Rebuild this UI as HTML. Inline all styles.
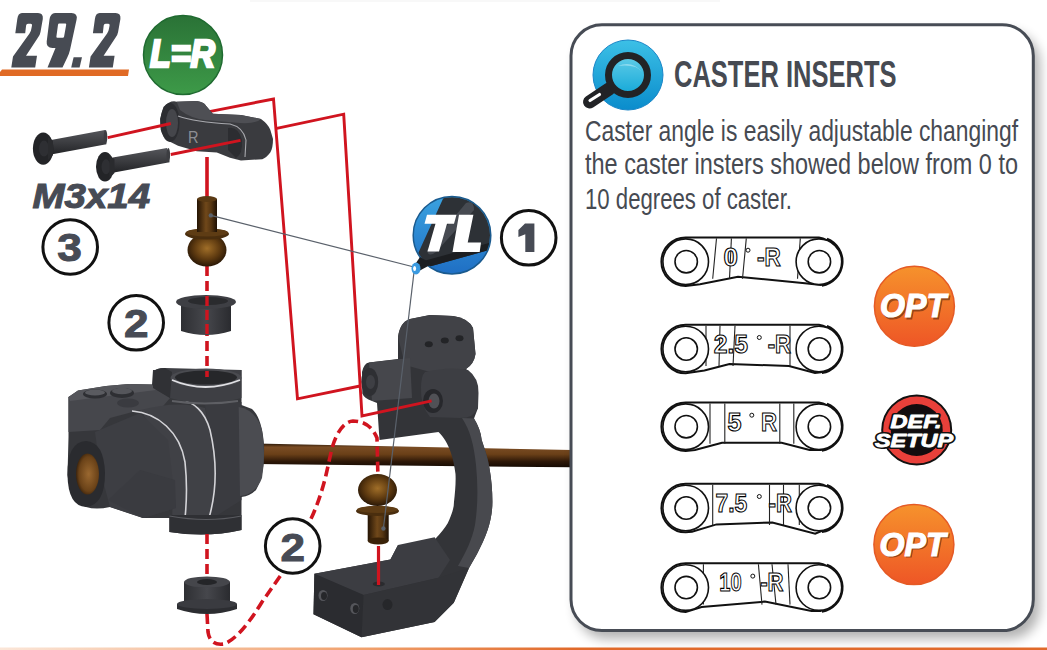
<!DOCTYPE html>
<html><head><meta charset="utf-8">
<style>
html,body{margin:0;padding:0;background:#fff;}
body{width:1047px;height:650px;overflow:hidden;font-family:"Liberation Sans",sans-serif;}
svg{display:block;}
text{font-family:"Liberation Sans",sans-serif;}
</style></head><body>
<svg width="1047" height="650" viewBox="0 0 1047 650">
<defs>
  <linearGradient id="gGreen" x1="0" y1="0" x2="0" y2="1">
    <stop offset="0" stop-color="#2a7236"/><stop offset="1" stop-color="#3d9a48"/>
  </linearGradient>
  <linearGradient id="gOrange" x1="0" y1="0" x2="0" y2="1">
    <stop offset="0" stop-color="#f6922c"/><stop offset="1" stop-color="#ee5626"/>
  </linearGradient>
  <linearGradient id="gBlue" x1="0" y1="0" x2="0" y2="1">
    <stop offset="0" stop-color="#3cc0e6"/><stop offset="1" stop-color="#0a8ccc"/>
  </linearGradient>
  <linearGradient id="gLens" x1="0" y1="0" x2="0" y2="1">
    <stop offset="0" stop-color="#62cde8"/><stop offset="1" stop-color="#14a8d8"/>
  </linearGradient>
  <linearGradient id="gTL" x1="0" y1="0" x2="0" y2="1">
    <stop offset="0" stop-color="#3aa2e0"/><stop offset="1" stop-color="#1f6fc4"/>
  </linearGradient>
  <linearGradient id="gBottom" x1="0" y1="0" x2="1" y2="0">
    <stop offset="0" stop-color="#fbe6d8"/><stop offset="0.35" stop-color="#f0a06c"/><stop offset="0.55" stop-color="#e0692a"/><stop offset="1" stop-color="#e0692a"/>
  </linearGradient>
  <filter id="shadow" x="-10%" y="-10%" width="130%" height="130%">
    <feGaussianBlur stdDeviation="6"/>
  </filter>
</defs>

<!-- top faint line -->
<rect x="250" y="0" width="470" height="2" fill="#f8f8f8"/>

<!-- ===== Title ===== -->
<path d="M22,13 L38,13 Q43.5,13 42.8,19 L40.5,32 Q40,35 38,37.5 L26,55.8 L37,55.8 L35.2,67.6 L11.3,67.6 L13,56.5 L29.5,33.5 Q31,31.5 31.3,29 L32,25.5 Q32.3,23.8 30.8,23.8 L28,23.8 Q26.3,23.8 26.1,25.5 L25.2,33.3 L15.3,33.3 L17.3,19 Q18,13 22,13 Z" fill="#474b53"/>
<path d="M22,13 L38,13 Q43.5,13 42.8,19 L40.5,32 Q40,35 38,37.5 L26,55.8 L37,55.8 L35.2,67.6 L11.3,67.6 L13,56.5 L29.5,33.5 Q31,31.5 31.3,29 L32,25.5 Q32.3,23.8 30.8,23.8 L28,23.8 Q26.3,23.8 26.1,25.5 L25.2,33.3 L15.3,33.3 L17.3,19 Q18,13 22,13 Z" transform="translate(77.6,0)" fill="#474b53"/>
<polygon points="71.2,67.6 79.6,67.6 82,57.2 73.6,57.2" fill="#474b53"/>
<path d="M55,13 L71.5,13 Q77.8,13 76.6,19.5 L70,50 Q69,54 67.5,57 L62.5,67.6 L47.5,67.6 L55.5,48 L52.5,48 Q46,48 46.7,41.5 L49.5,19.5 Q50.5,13 55,13 Z M59.2,23.5 L65.3,23.5 Q66.4,23.5 66.2,24.7 L64.1,36.6 Q63.9,37.8 62.7,37.8 L57.4,37.8 Q56.2,37.8 56.4,36.6 L58,24.7 Q58.2,23.5 59.2,23.5 Z" fill="#474b53" fill-rule="evenodd"/>
<polygon points="2,69.5 129,69.5 128,76 0,76 0,72" fill="#e06a25"/>

<!-- L=R badge -->
<circle cx="183" cy="55" r="39.5" fill="url(#gGreen)" stroke="#1f6a30" stroke-width="1.5"/>
<text x="150" y="67" font-size="39" font-weight="bold" font-style="italic" fill="#fff" stroke="#fff" stroke-width="2.6" stroke-linejoin="miter" textLength="65" lengthAdjust="spacingAndGlyphs">L=R</text>

<defs>
  <linearGradient id="gRod" x1="0" y1="0" x2="0" y2="1">
    <stop offset="0" stop-color="#2a1808"/><stop offset="0.15" stop-color="#7a4c24"/><stop offset="0.45" stop-color="#6a4018"/><stop offset="0.75" stop-color="#2e1808"/><stop offset="1" stop-color="#140a02"/>
  </linearGradient>
  <linearGradient id="gBrassH" x1="0" y1="0" x2="1" y2="0">
    <stop offset="0" stop-color="#241404"/><stop offset="0.45" stop-color="#70481a"/><stop offset="0.7" stop-color="#563612"/><stop offset="1" stop-color="#1e1004"/>
  </linearGradient>
  <radialGradient id="gBall" cx="0.5" cy="0.45" r="0.6">
    <stop offset="0" stop-color="#a06e28"/><stop offset="0.55" stop-color="#5e3a10"/><stop offset="1" stop-color="#1e1004"/>
  </radialGradient>
  <linearGradient id="gDarkH" x1="0" y1="0" x2="1" y2="0">
    <stop offset="0" stop-color="#2e2f33"/><stop offset="0.5" stop-color="#46474c"/><stop offset="1" stop-color="#2a2b2f"/>
  </linearGradient>
  <linearGradient id="gDarkV" x1="0" y1="0" x2="0" y2="1">
    <stop offset="0" stop-color="#4a4b50"/><stop offset="1" stop-color="#2a2b2e"/>
  </linearGradient>
  <linearGradient id="gScrew" x1="0" y1="0" x2="0" y2="1">
    <stop offset="0" stop-color="#55565b"/><stop offset="0.35" stop-color="#444549"/><stop offset="1" stop-color="#232427"/>
  </linearGradient>
  <radialGradient id="gBronze" cx="0.55" cy="0.5" r="0.6">
    <stop offset="0" stop-color="#9a6830"/><stop offset="0.7" stop-color="#6a4218"/><stop offset="1" stop-color="#2a1808"/>
  </radialGradient>
  <clipPath id="tlClip"><circle cx="452" cy="235.2" r="38"/></clipPath>
</defs>

<!-- axle rod -->
<polygon points="255,443.6 572,450 572,467.3 255,464" fill="url(#gRod)"/>

<!-- red solid lines A and B -->
<g fill="none" stroke="#d0141f" stroke-width="2.9" stroke-linejoin="miter">
  <polyline points="209.2,111.7 273.5,99 297.5,398.8 360,386"/>
</g>

<!-- ===== Knuckle ===== -->
<g>
  <path d="M68.5,397 L78,390.5 L106,386 L129,384 L152,384.5 L153,370 L241.5,370 L241.5,405 L252,409 Q262,418 264,445 Q265,475 256,490 Q250,496 241.5,497 L241.5,530 Q207,538 169.4,532 L169.4,518 L143,518 L110,507 Q96,510 86,507 Q70,500 67.5,475 L68.5,437 Z" fill="#36373b"/>
  <!-- upper arm plate front face -->
  <path d="M68.5,397 L152,387 L170,398 L158,412 L140,410 L110,418 L100,430 L68.5,432 Z" fill="#46474c"/>
  <path d="M68.5,397 L78,390.5 L106,386 L129,384 L152,384.5 L156,390 L70,401 Z" fill="#55565b"/>
  <ellipse cx="95" cy="394" rx="12" ry="4.5" fill="#2e2f33"/>
  <ellipse cx="95" cy="392.5" rx="10" ry="3" fill="#5a5b60"/>
  <ellipse cx="122" cy="393" rx="12" ry="5" fill="#2e2f33"/>
  <ellipse cx="122" cy="391" rx="10" ry="3.2" fill="#55565b"/>
  <ellipse cx="128" cy="403" rx="11" ry="4.5" fill="#3a3b40"/>
  <!-- main barrel -->
  <path d="M140,410 Q178,400 205,408 L216,470 L210,520 Q185,530 172,520 Q176,460 140,410 Z" fill="#404146"/>
  <path d="M205,405 L241.5,402 L241.5,500 L210,520 L216,470 Z" fill="#3a3b40"/>
  <!-- right dome -->
  <path d="M238.7,407 Q256,410 262,430 Q266,455 262,478 Q256,494 240,496 Z" fill="#4b4c51"/>
  <!-- hex left lower block -->
  <path d="M95,432 L140,413 L168,440 L176,508 L143,518 L110,507 L100,470 Z" fill="#3d3e43"/>
  <path d="M108,500 L140,470 L175,480 L176,508 L143,518 Z" fill="#3a3b40"/>
  <!-- highlight curves -->
  <path d="M132,411 C158,413 180,432 185,462 C188,490 186,508 185,518" fill="none" stroke="#d4d4d8" stroke-width="1.6"/>
  <path d="M176,397 C195,402 205,412 210,430 C217,460 217,490 209,518" fill="none" stroke="#d4d4d8" stroke-width="1.6"/>
  <!-- top collar -->
  <path d="M153,372 Q156,368 165,368 L241.5,370 L241.5,398 Q205,408 170,398 Z" fill="#3e3f44"/>
  <path d="M153,372 Q156,368 165,368 L172,372 L170,398 Q160,392 153,388 Z" fill="#303135"/>
  <ellipse cx="206" cy="378" rx="35.5" ry="9.5" fill="#4a4b50"/>
  <ellipse cx="206" cy="377.5" rx="31" ry="7" fill="#26272a"/>
  <path d="M172,380 Q205,394 240,380" fill="none" stroke="#e0e0e4" stroke-width="1.8"/>
  <path d="M172,401 Q205,406 238,401" fill="none" stroke="#5e5f64" stroke-width="2"/>
  <!-- bottom collar -->
  <path d="M169.4,515 L241.5,515 L241.5,530 Q207,538 169.4,532 Z" fill="#2f3034"/>
  <path d="M169.4,516 Q207,523 241.5,516" fill="none" stroke="#5a5b60" stroke-width="1.2"/>
  <!-- left hole -->
  <path d="M67.5,475 Q67,442 86,441 Q104,442 105,473 Q105,505 86,507 Q68,506 67.5,475 Z" fill="#2a2b2f"/>
  <ellipse cx="87.5" cy="474" rx="11.5" ry="20.5" fill="url(#gBronze)"/>
</g>

<!-- ===== upper part screws and block ===== -->
<g>
  <!-- screw 1 -->
  <polygon points="49.7,140.3 105,130 106.4,144.2 51,154.5" fill="url(#gScrew)"/>
  <ellipse cx="105.5" cy="137.1" rx="1.8" ry="7.1" fill="#3c3d41"/>
  <ellipse cx="43.2" cy="148.6" rx="10.3" ry="16.2" fill="#232427"/>
  <ellipse cx="44" cy="148.6" rx="5" ry="8" fill="#2e2f33"/>
  <path d="M48,137 L53,141 L53,155 L48,160 Z" fill="#2a2b2e"/>
  <!-- screw 2 -->
  <polygon points="112.8,157.6 167,148 169.6,162.2 114,172.5" fill="url(#gScrew)"/>
  <ellipse cx="168.3" cy="155.1" rx="1.8" ry="7.1" fill="#3c3d41"/>
  <ellipse cx="105" cy="166.8" rx="9" ry="14.8" fill="#232427"/>
  <ellipse cx="106" cy="166.8" rx="4.5" ry="7.5" fill="#2e2f33"/>
  <path d="M109.5,155.5 L114.5,159 L114.5,173 L109.5,178 Z" fill="#2a2b2e"/>
  <!-- top block -->
  <path d="M163.4,107 Q170,100 176.7,101.7 L196.8,101 Q204,102 206,105.7 L212.8,113.7 L241,115 L261,119 Q268,124 270.3,129.8 L273,139 Q273,148 270.3,152.5 Q266,158 262.3,159.2 L241,160.5 L230,157.8 L216.8,152.5 L196.8,151.2 L178,145.8 L170,141.8 Q162,136 160.7,129.8 L160,119 Z" fill="#3a3b3f"/>
  <path d="M176.7,101.7 L196.8,101 Q204,102 206,105.7 L212.8,113.7 L241,115 L261,119 Q256,124 240,123 L205,120 Q190,118 180,110 Z" fill="#4e4f54"/>
  <ellipse cx="170" cy="122.4" rx="9.5" ry="19.5" fill="#2c2d31"/>
  <ellipse cx="172" cy="123" rx="6" ry="14" fill="#45464b"/>
  <path d="M228,128 Q238,126 242,140 Q243,154 236,158 L228,150 Z" fill="#2c2d31"/>
  <path d="M178,116 Q195,122 230,124 Q243,127 246,140 L245,157" fill="none" stroke="#a8a9ae" stroke-width="1.1"/>
  <text x="188" y="143" font-size="16.5" fill="#8e8f94" textLength="10.5" lengthAdjust="spacingAndGlyphs">R</text>
</g>

<!-- red lines from screws -->
<g stroke="#d0141f" stroke-width="2.9" fill="none">
  <line x1="107.7" y1="137.7" x2="170.8" y2="123.5"/>
  <line x1="170.8" y1="154.5" x2="240.5" y2="140.3"/>
  <line x1="207" y1="157" x2="207" y2="197" stroke-width="3.6"/>
</g>

<!-- red dashed lines -->
<g stroke="#d0141f" stroke-width="3.6" fill="none" stroke-dasharray="10 5">
  <line x1="207" y1="266" x2="207" y2="377"/>
  <line x1="207" y1="534" x2="207" y2="578"/>
  <path d="M207,614 L208,632 Q210,646 224,644 Q240,638 262,602 L283,572 L310,521 Q320,500 326,475 L332,448 Q340,422 353,421 Q370,421 377,438 L378,479"/>
</g>

<!-- upper bushing -->
<g>
  <path d="M181,303 L231,303 L231,331 Q206,339 181,331 Z" fill="url(#gDarkH)"/>
  <ellipse cx="206" cy="302" rx="30" ry="7" fill="#3e3f44"/>
  <ellipse cx="208" cy="301" rx="20" ry="4" fill="#2a2b2e"/>
</g>
<line x1="207" y1="296" x2="207" y2="336" stroke="#d0141f" stroke-width="3.4" stroke-dasharray="10 4"/>

<!-- lower bushing -->
<g>
  <path d="M184,582 L230,582 L230,603 L184,603 Z" fill="url(#gDarkH)"/>
  <path d="M177,604 L237,604 L237,609 Q207,619 177,609 Z" fill="#2c2d31"/>
  <ellipse cx="207" cy="604" rx="30" ry="5" fill="#3a3b40"/>
  <ellipse cx="207" cy="582" rx="23" ry="5.5" fill="#45464b"/>
  <ellipse cx="207" cy="582" rx="10" ry="3" fill="#242528"/>
</g>

<!-- upper ball stud -->
<g>
  <rect x="197" y="199" width="20" height="33" fill="url(#gBrassH)"/>
  <ellipse cx="207" cy="199" rx="10" ry="3" fill="#5a3a14"/>
  <ellipse cx="207" cy="250" rx="19.5" ry="16.5" fill="url(#gBall)"/>
  <ellipse cx="207" cy="234" rx="22" ry="5.5" fill="#4a2e0e"/>
  <ellipse cx="207" cy="232.5" rx="21" ry="4" fill="#5e3c14"/>
  <rect x="197" y="226" width="20" height="6" fill="url(#gBrassH)"/>
</g>

<!-- ===== Hub carrier ===== -->
<g>
  <path d="M362,372 Q364,363 369,362.5 L398,359 L398,337 Q400,322 410,319 L430,315 L453,316 Q468,318 473,328 L475.5,354 Q474,364 466,369 Q478,378 478,392 L478,408 L474,418.5 C478,425 481,432 481.7,440 C485,450 488,458 489.4,467.8 C491.5,480 492.4,490 492.4,501.7 C492.4,512 490.5,521 487.8,529.5 C485,538 481,546 477,554 L469,568 L453.8,602.7 L434.6,622 L361.5,637.3 L313.5,614.2 L314.4,573.8 L390.4,559.4 L398,545 L420,545 C428,543 432,541 435.4,538.7 C441,533 445,528 447.7,523.3 C451,516 454,509 454,501.7 C455,493 456,482 455.5,474 C454.5,466 453,459 450.8,452.4 C448,444 443,436 438.5,432 L379.5,440 L377,403 L372,401 Q364,398 362.3,393.5 Z" fill="#333438"/>
  <path d="M462,418 C470,430 474,445 476,465 C478,485 478,505 475,525 C472,540 466,552 458,566 L469,568 L477,554 C481,546 485,538 487.8,529.5 C490.5,521 492.4,512 492.4,501.7 C492.4,490 491.5,480 489.4,467.8 C488,458 485,450 481.7,440 C481,432 478,425 474,418.5 Z" fill="#48494e"/>
  <!-- tower face lighter -->
  <path d="M398,337 Q400,322 410,319 L430,315 L453,316 Q468,318 473,328 L475.5,354 Q474,364 466,369 Q450,375 430,372 L405,365 Z" fill="#414247"/>
  <ellipse cx="428.8" cy="344.3" rx="4" ry="3" fill="#232427"/>
  <ellipse cx="444.8" cy="340.6" rx="4" ry="3" fill="#232427"/>
  <ellipse cx="459.5" cy="338.2" rx="4" ry="3" fill="#232427"/>
  <!-- left boss -->
  <path d="M369,362.5 L410,358 L412,398 L372,401 Z" fill="#46474c"/>
  <ellipse cx="369.7" cy="382" rx="8.5" ry="14" fill="#2e2f33"/>
  <ellipse cx="370.5" cy="382" rx="4.5" ry="7" fill="#3e3f44"/>
  <path d="M425,372 Q450,366 468,370 Q479,378 478.5,393 L478,408 Q474,418 460,418 L430,417 Q420,405 421,388 Q421,376 425,372 Z" fill="#3d3e43"/>
  <!-- right boss hole -->
  <ellipse cx="433" cy="401" rx="10" ry="12" fill="#27282c"/>
  <ellipse cx="434" cy="401" rx="5.5" ry="7.5" fill="#505156"/>
  <!-- foot faces -->
  <polygon points="314.4,573.8 390.4,559.4 398,545 434.6,537.3 450,560 438.5,577.7 363.5,595" fill="#3c3d42"/>
  <polygon points="363.5,595 438.5,577.7 469,568 453.8,602.7 434.6,622 361.5,637.3" fill="#323337"/>
  <polygon points="314.4,573.8 363.5,595 361.5,637.3 313.5,614.2" fill="#2b2c30"/>
  <ellipse cx="378.8" cy="584" rx="6" ry="2.5" fill="#2a2b2e"/>
  <ellipse cx="323" cy="595.5" rx="4.5" ry="5.5" fill="#55565b"/><ellipse cx="324" cy="596" rx="3" ry="4" fill="#26272a"/>
  <ellipse cx="354.8" cy="608.5" rx="4.5" ry="5.5" fill="#55565b"/><ellipse cx="355.8" cy="609" rx="3" ry="4" fill="#26272a"/>
  <ellipse cx="387.5" cy="604.6" rx="5" ry="5.5" fill="#26272a"/>
</g>

<!-- red line B last segment (over hub) -->
<polyline points="275.5,128.6 343.7,114.2 362,416 431.6,400.8" fill="none" stroke="#d0141f" stroke-width="2.9"/>

<!-- lower ball stud -->
<g>
  <rect x="367.7" y="508" width="21" height="33" fill="url(#gBrassH)"/>
  <ellipse cx="378.2" cy="541" rx="10.5" ry="3.5" fill="#3a2208"/>
  <ellipse cx="377.5" cy="490" rx="19.5" ry="16" fill="url(#gBall)"/>
  <ellipse cx="377.5" cy="511" rx="21.5" ry="5" fill="#4a2e0e"/>
  <ellipse cx="377.5" cy="509.5" rx="20.5" ry="3.5" fill="#5e3c14"/>
</g>
<line x1="378.5" y1="546" x2="378.5" y2="585" stroke="#d0141f" stroke-width="3.2"/>

<!-- grey leader lines -->
<g stroke="#5a616b" stroke-width="1.2" fill="none">
  <line x1="210.8" y1="215.4" x2="416" y2="267.5"/>
  <line x1="414.5" y1="268" x2="383.4" y2="528.5"/>
</g>
<circle cx="210.8" cy="215.4" r="2.2" fill="#5a616b"/>
<circle cx="383.4" cy="528.5" r="2.2" fill="#5a616b"/>

<!-- TL badge -->
<g>
  <circle cx="452" cy="235.2" r="38.8" fill="url(#gTL)" stroke="#1a5a8e" stroke-width="1.5"/>
  <g clip-path="url(#tlClip)">
    <polygon points="447,190 500,190 500,249 489,250 417.4,270 416,258" fill="#2d3136"/>
    <polygon points="420,262 489,243 489,250 417.4,270" fill="#1c1e21"/>
    <path d="M466,203 Q474,200 474,210 L436,252 Q428,258 427,250 Z" fill="#474b52"/>
    
  </g>
  <polygon points="414,266 420,257 432,264 419,271" fill="#1c1e21"/>
  <ellipse cx="416" cy="268.5" rx="4.5" ry="6" fill="#3a9ae0"/>
  <ellipse cx="414.6" cy="268.5" rx="1.5" ry="2.5" fill="#fff"/>
  <polygon points="427,214.7 456.5,214.7 454,223.8 447,223.8 439,251.6 427.5,251.6 435.5,223.8 424.5,223.8" fill="#fff"/>
  <polygon points="459,214.7 473.4,214.7 467.7,242.6 481,242.6 479.7,251.9 452.5,251.9" fill="#fff"/>
</g>

<!-- number circles -->
<g fill="#fff" stroke="#111" stroke-width="3">
  <circle cx="528.7" cy="237.8" r="27.3"/>
  <circle cx="70.2" cy="247" r="27.3"/>
  <circle cx="136.2" cy="322.8" r="27.3"/>
  <circle cx="292.7" cy="546" r="27.3"/>
</g>
<g font-weight="bold" fill="#474b55" font-size="39" stroke="#474b55" stroke-width="1">
  </g>
<polygon points="518.4,230 525,223.6 534.4,223.6 534.4,251.9 525.3,251.9 525.3,234.2 518.4,237" fill="#474b55"/>
<g font-weight="bold" fill="#474b55" font-size="39" stroke="#474b55" stroke-width="1">
  <text x="57.2" y="261.4" textLength="24.6" lengthAdjust="spacingAndGlyphs">3</text>
  <text x="124" y="337.3" textLength="24.5" lengthAdjust="spacingAndGlyphs">2</text>
  <text x="280.5" y="560.5" textLength="24.5" lengthAdjust="spacingAndGlyphs">2</text>
</g>
<text x="32.5" y="208.3" font-size="35.5" font-weight="bold" font-style="italic" fill="#474b55" stroke="#474b55" stroke-width="1.1" textLength="117.5" lengthAdjust="spacingAndGlyphs">M3x14</text>

<!-- ===== Right box ===== -->
<rect x="576" y="32" width="464" height="607" rx="31" fill="#000" opacity="0.3" filter="url(#shadow)"/>
<rect x="571" y="24.8" width="462.3" height="605.8" rx="31" fill="#fff" stroke="#474c55" stroke-width="3"/>

<!-- magnifier icon -->
<circle cx="628" cy="75" r="35" fill="url(#gBlue)" stroke="#1a86c8" stroke-width="1"/>
<line x1="589.5" y1="102" x2="609" y2="89" stroke="#222326" stroke-width="13" stroke-linecap="round"/>
<line x1="590" y1="100.5" x2="599.5" y2="94.5" stroke="#fff" stroke-width="3.2" stroke-linecap="round"/>
<circle cx="628" cy="75" r="19.5" fill="url(#gLens)" stroke="#222326" stroke-width="7"/>
<path d="M618,66 Q632,60 642,72 Q636,64 618,66 Z" fill="#a8e4f4" opacity="0.7"/>

<text x="674" y="86.6" font-size="37.5" font-weight="bold" fill="#464a52" textLength="222.5" lengthAdjust="spacingAndGlyphs">CASTER INSERTS</text>

<g font-size="29" fill="#464a52">
<text x="585" y="140.5" textLength="433" lengthAdjust="spacingAndGlyphs">Caster angle is easily adjustable changingf</text>
<text x="585" y="174" textLength="433" lengthAdjust="spacingAndGlyphs">the caster insters showed below from 0 to</text>
<text x="585" y="208.5" textLength="207" lengthAdjust="spacingAndGlyphs">10 degrees of caster.</text>
</g>

<!-- INSERTS -->
<g>
<path d="M685.7,237.4 L818.9,237.4 A24.3,24.3 0 0 1 820.9,285.0 L805.0,283.2 L738.0,276.7 L700.0,284.2 L685.7,286.0 A24.3,24.3 0 0 1 685.7,237.4 Z" fill="#fff" stroke="#111" stroke-width="2"/>
<path d="M826.9,238.9 A24.3,24.3 0 0 1 821.9,285.5" fill="none" stroke="#111" stroke-width="2.5"/>
<line x1="716.5" y1="238.4" x2="712.7" y2="278.7" stroke="#222" stroke-width="1.1"/>
<line x1="731.4" y1="238.4" x2="729.5" y2="278.7" stroke="#222" stroke-width="1.1"/>
<line x1="746.3" y1="238.4" x2="742.5" y2="278.7" stroke="#222" stroke-width="1.1"/>
<line x1="800.3" y1="238.4" x2="797.5" y2="278.7" stroke="#222" stroke-width="1.1"/>
<circle cx="685.7" cy="261.7" r="22.8" fill="#fff" stroke="#111" stroke-width="1.6"/>
<circle cx="686.2" cy="261.7" r="11.2" fill="#fff" stroke="#111" stroke-width="1.6"/>
<circle cx="818.9" cy="261.7" r="22.8" fill="#fff" stroke="#111" stroke-width="1.6"/>
<circle cx="819.4" cy="261.7" r="11.2" fill="#fff" stroke="#111" stroke-width="1.6"/>
<text x="723.5" y="265.5" font-size="26" font-weight="bold" fill="#fff" stroke="#000" stroke-width="1.1" textLength="14.4" lengthAdjust="spacingAndGlyphs">0</text>
<text x="757" y="265.5" font-size="26" font-weight="bold" fill="#fff" stroke="#000" stroke-width="1.1" textLength="23.7" lengthAdjust="spacingAndGlyphs">-R</text>
<circle cx="748" cy="250.2" r="2" fill="#fff" stroke="#111" stroke-width="1"/>
</g>
<g>
<path d="M685.7,324.7 L818.9,324.7 A24.3,24.3 0 0 1 820.9,372.3 L815.0,373.0 L789.0,366.0 L729.5,364.0 L704.4,370.5 L685.7,373.3 A24.3,24.3 0 0 1 685.7,324.7 Z" fill="#fff" stroke="#111" stroke-width="2"/>
<path d="M826.9,326.2 A24.3,24.3 0 0 1 821.9,372.8" fill="none" stroke="#111" stroke-width="2.5"/>
<line x1="706" y1="325.7" x2="706" y2="366.0" stroke="#222" stroke-width="1.1"/>
<line x1="720" y1="325.7" x2="719" y2="366.0" stroke="#222" stroke-width="1.1"/>
<line x1="735" y1="325.7" x2="733" y2="366.0" stroke="#222" stroke-width="1.1"/>
<line x1="790" y1="325.7" x2="790" y2="366.0" stroke="#222" stroke-width="1.1"/>
<circle cx="685.7" cy="349.0" r="22.8" fill="#fff" stroke="#111" stroke-width="1.6"/>
<circle cx="686.2" cy="349.0" r="11.2" fill="#fff" stroke="#111" stroke-width="1.6"/>
<circle cx="818.9" cy="349.0" r="22.8" fill="#fff" stroke="#111" stroke-width="1.6"/>
<circle cx="819.4" cy="349.0" r="11.2" fill="#fff" stroke="#111" stroke-width="1.6"/>
<text x="713.7" y="352.8" font-size="26" font-weight="bold" fill="#fff" stroke="#000" stroke-width="1.1" textLength="34.3" lengthAdjust="spacingAndGlyphs">2.5</text>
<text x="767.7" y="352.8" font-size="26" font-weight="bold" fill="#fff" stroke="#000" stroke-width="1.1" textLength="23.3" lengthAdjust="spacingAndGlyphs">-R</text>
<circle cx="759.3" cy="337.5" r="2" fill="#fff" stroke="#111" stroke-width="1"/>
</g>
<g>
<path d="M685.7,402.4 L818.9,402.4 A24.3,24.3 0 0 1 820.9,450.0 L809.6,450.0 L781.6,442.7 L722.0,442.7 L695.0,450.0 L685.7,451.0 A24.3,24.3 0 0 1 685.7,402.4 Z" fill="#fff" stroke="#111" stroke-width="2"/>
<path d="M826.9,403.9 A24.3,24.3 0 0 1 821.9,450.5" fill="none" stroke="#111" stroke-width="2.5"/>
<line x1="710" y1="403.4" x2="710" y2="443.7" stroke="#222" stroke-width="1.1"/>
<line x1="724.8" y1="403.4" x2="724.8" y2="443.7" stroke="#222" stroke-width="1.1"/>
<line x1="779.8" y1="403.4" x2="779.8" y2="443.7" stroke="#222" stroke-width="1.1"/>
<line x1="793.8" y1="403.4" x2="793.8" y2="443.7" stroke="#222" stroke-width="1.1"/>
<circle cx="685.7" cy="426.7" r="22.8" fill="#fff" stroke="#111" stroke-width="1.6"/>
<circle cx="686.2" cy="426.7" r="11.2" fill="#fff" stroke="#111" stroke-width="1.6"/>
<circle cx="818.9" cy="426.7" r="22.8" fill="#fff" stroke="#111" stroke-width="1.6"/>
<circle cx="819.4" cy="426.7" r="11.2" fill="#fff" stroke="#111" stroke-width="1.6"/>
<text x="727.6" y="430.5" font-size="26" font-weight="bold" fill="#fff" stroke="#000" stroke-width="1.1" textLength="14" lengthAdjust="spacingAndGlyphs">5</text>
<text x="761" y="430.5" font-size="26" font-weight="bold" fill="#fff" stroke="#000" stroke-width="1.1" textLength="16" lengthAdjust="spacingAndGlyphs">R</text>
<circle cx="751.8" cy="415.2" r="2" fill="#fff" stroke="#111" stroke-width="1"/>
</g>
<g>
<path d="M685.7,483.7 L818.9,483.7 A24.3,24.3 0 0 1 820.9,531.3 L815.2,533.7 L772.3,522.5 L716.5,524.4 L692.0,531.8 L685.7,532.3 A24.3,24.3 0 0 1 685.7,483.7 Z" fill="#fff" stroke="#111" stroke-width="2"/>
<path d="M826.9,485.2 A24.3,24.3 0 0 1 821.9,531.8" fill="none" stroke="#111" stroke-width="2.5"/>
<line x1="712.7" y1="484.7" x2="712.7" y2="525.0" stroke="#222" stroke-width="1.1"/>
<line x1="769.5" y1="484.7" x2="769.5" y2="525.0" stroke="#222" stroke-width="1.1"/>
<line x1="783.5" y1="484.7" x2="783.5" y2="525.0" stroke="#222" stroke-width="1.1"/>
<line x1="799.3" y1="484.7" x2="799.3" y2="525.0" stroke="#222" stroke-width="1.1"/>
<circle cx="685.7" cy="508.0" r="22.8" fill="#fff" stroke="#111" stroke-width="1.6"/>
<circle cx="686.2" cy="508.0" r="11.2" fill="#fff" stroke="#111" stroke-width="1.6"/>
<circle cx="818.9" cy="508.0" r="22.8" fill="#fff" stroke="#111" stroke-width="1.6"/>
<circle cx="819.4" cy="508.0" r="11.2" fill="#fff" stroke="#111" stroke-width="1.6"/>
<text x="715.5" y="511.8" font-size="26" font-weight="bold" fill="#fff" stroke="#000" stroke-width="1.1" textLength="31.7" lengthAdjust="spacingAndGlyphs">7.5</text>
<text x="768.6" y="511.8" font-size="26" font-weight="bold" fill="#fff" stroke="#000" stroke-width="1.1" textLength="23.4" lengthAdjust="spacingAndGlyphs">-R</text>
<circle cx="759.3" cy="496.5" r="2" fill="#fff" stroke="#111" stroke-width="1"/>
</g>
<g>
<path d="M685.7,563.3 L818.9,563.3 A24.3,24.3 0 0 1 820.9,610.9 L811.5,610.9 L764.9,601.6 L701.6,607.0 L685.7,611.9 A24.3,24.3 0 0 1 685.7,563.3 Z" fill="#fff" stroke="#111" stroke-width="2"/>
<path d="M826.9,564.8 A24.3,24.3 0 0 1 821.9,611.4" fill="none" stroke="#111" stroke-width="2.5"/>
<line x1="703.4" y1="564.3" x2="703.4" y2="604.6" stroke="#222" stroke-width="1.1"/>
<line x1="758.4" y1="564.3" x2="762" y2="604.6" stroke="#222" stroke-width="1.1"/>
<line x1="772" y1="564.3" x2="776" y2="604.6" stroke="#222" stroke-width="1.1"/>
<line x1="788" y1="564.3" x2="790" y2="604.6" stroke="#222" stroke-width="1.1"/>
<circle cx="685.7" cy="587.6" r="22.8" fill="#fff" stroke="#111" stroke-width="1.6"/>
<circle cx="686.2" cy="587.6" r="11.2" fill="#fff" stroke="#111" stroke-width="1.6"/>
<circle cx="818.9" cy="587.6" r="22.8" fill="#fff" stroke="#111" stroke-width="1.6"/>
<circle cx="819.4" cy="587.6" r="11.2" fill="#fff" stroke="#111" stroke-width="1.6"/>
<text x="719.3" y="591.4" font-size="26" font-weight="bold" fill="#fff" stroke="#000" stroke-width="1.1" textLength="22.3" lengthAdjust="spacingAndGlyphs">10</text>
<text x="760.2" y="591.4" font-size="26" font-weight="bold" fill="#fff" stroke="#000" stroke-width="1.1" textLength="23.3" lengthAdjust="spacingAndGlyphs">-R</text>
<circle cx="752.8" cy="576.1" r="2" fill="#fff" stroke="#111" stroke-width="1"/>
</g>

<!-- OPT badges -->
<g>
<circle cx="914.4" cy="306.2" r="40" fill="url(#gOrange)" stroke="#e55a25" stroke-width="1.5"/>
<text x="881.5" y="318.5" font-size="33" font-weight="bold" font-style="italic" fill="#3a1a0a" stroke="#3a1a0a" stroke-width="1.2" opacity="0.5" textLength="66" lengthAdjust="spacingAndGlyphs">OPT</text>
<text x="880" y="317.3" font-size="33" font-weight="bold" font-style="italic" fill="#fff" stroke="#fff" stroke-width="1.2" textLength="66" lengthAdjust="spacingAndGlyphs">OPT</text>
</g>
<g>
<circle cx="913.9" cy="544.6" r="40" fill="url(#gOrange)" stroke="#e55a25" stroke-width="1.5"/>
<text x="881" y="557" font-size="33" font-weight="bold" font-style="italic" fill="#3a1a0a" stroke="#3a1a0a" stroke-width="1.2" opacity="0.5" textLength="66" lengthAdjust="spacingAndGlyphs">OPT</text>
<text x="879.5" y="555.8" font-size="33" font-weight="bold" font-style="italic" fill="#fff" stroke="#fff" stroke-width="1.2" textLength="66" lengthAdjust="spacingAndGlyphs">OPT</text>
</g>
<!-- DEF SETUP badge -->
<g>
<circle cx="916.7" cy="430" r="34.5" fill="#e8403a" stroke="#111" stroke-width="2"/>
<circle cx="916.7" cy="430" r="26" fill="#120c0e"/>
<g font-weight="bold" font-style="italic" stroke-linejoin="round" font-size="19">
<text x="890.5" y="427.5" fill="#111" stroke="#111" stroke-width="4" textLength="51" lengthAdjust="spacingAndGlyphs">DEF.</text>
<text x="875" y="446.5" fill="#111" stroke="#111" stroke-width="4" textLength="78" lengthAdjust="spacingAndGlyphs">SETUP</text>
<text x="890.5" y="427.5" fill="#fff" stroke="#fff" stroke-width="0.9" textLength="51" lengthAdjust="spacingAndGlyphs">DEF.</text>
<text x="875" y="446.5" fill="#fff" stroke="#fff" stroke-width="0.9" textLength="78" lengthAdjust="spacingAndGlyphs">SETUP</text>
</g>
</g>


<!-- bottom orange line -->
<rect x="0" y="647.5" width="1047" height="2.5" fill="url(#gBottom)"/>

</svg>
</body></html>
